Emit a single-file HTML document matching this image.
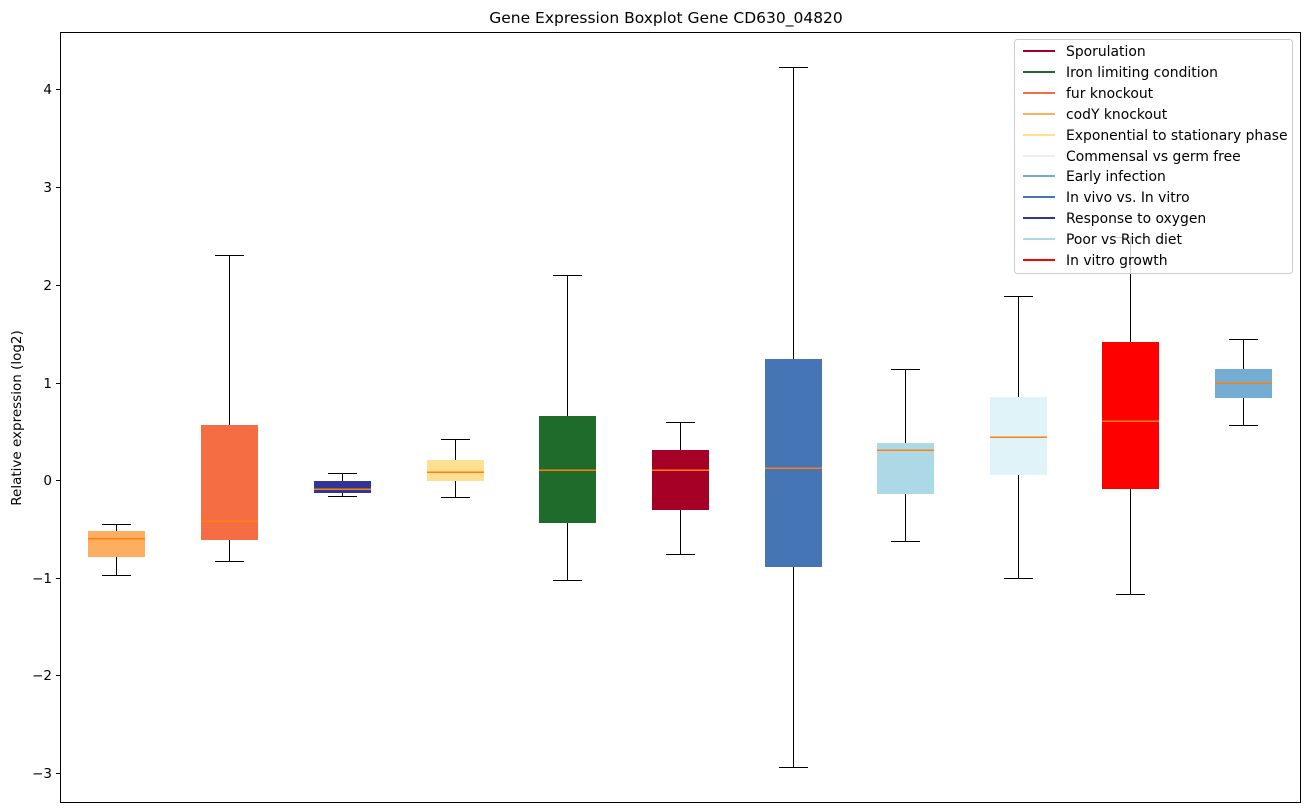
<!DOCTYPE html>
<html><head><meta charset="utf-8"><style>body{margin:0;background:#fff}svg{display:block}</style></head><body>
<svg width="1309" height="812" xmlns="http://www.w3.org/2000/svg" font-family="DejaVu Sans, Liberation Sans, sans-serif">
<rect width="1309" height="812" fill="#fff"/>
<text x="666" y="23" text-anchor="middle" font-size="15.5">Gene Expression Boxplot Gene CD630_04820</text>
<g stroke-width="1" shape-rendering="crispEdges">
<g><line x1="116.5" y1="524" x2="116.5" y2="575" stroke="#000"/><line x1="102" y1="524.5" x2="131" y2="524.5" stroke="#000"/><line x1="102" y1="575.5" x2="131" y2="575.5" stroke="#000"/><rect x="88" y="531" width="57" height="26" fill="#fdae61"/><line x1="88" y1="538.5" x2="145" y2="538.5" stroke="#ff7f0e" stroke-width="1.5"/></g>
<g><line x1="229.5" y1="255" x2="229.5" y2="561" stroke="#000"/><line x1="215" y1="255.5" x2="244" y2="255.5" stroke="#000"/><line x1="215" y1="561.5" x2="244" y2="561.5" stroke="#000"/><rect x="201" y="425" width="57" height="115" fill="#f46d43"/><line x1="201" y1="521" x2="258" y2="521" stroke="#ff7f0e" stroke-width="1.5"/></g>
<g><line x1="342.5" y1="473" x2="342.5" y2="496" stroke="#000"/><line x1="328" y1="473.5" x2="357" y2="473.5" stroke="#000"/><line x1="328" y1="496.5" x2="357" y2="496.5" stroke="#000"/><rect x="314" y="481" width="57" height="12" fill="#313695"/><line x1="314" y1="489" x2="371" y2="489" stroke="#ff7f0e" stroke-width="1.5"/></g>
<g><line x1="455.5" y1="439" x2="455.5" y2="497" stroke="#000"/><line x1="441" y1="439.5" x2="470" y2="439.5" stroke="#000"/><line x1="441" y1="497.5" x2="470" y2="497.5" stroke="#000"/><rect x="427" y="460" width="57" height="21" fill="#fee090"/><line x1="427" y1="472" x2="484" y2="472" stroke="#ff7f0e" stroke-width="1.5"/></g>
<g><line x1="567.5" y1="275" x2="567.5" y2="580" stroke="#000"/><line x1="553" y1="275.5" x2="582" y2="275.5" stroke="#000"/><line x1="553" y1="580.5" x2="582" y2="580.5" stroke="#000"/><rect x="539" y="416" width="57" height="107" fill="#1f6b2c"/><line x1="539" y1="470" x2="596" y2="470" stroke="#ff7f0e" stroke-width="1.5"/></g>
<g><line x1="680.5" y1="422" x2="680.5" y2="554" stroke="#000"/><line x1="666" y1="422.5" x2="695" y2="422.5" stroke="#000"/><line x1="666" y1="554.5" x2="695" y2="554.5" stroke="#000"/><rect x="652" y="450" width="57" height="60" fill="#a50026"/><line x1="652" y1="470" x2="709" y2="470" stroke="#ff7f0e" stroke-width="1.5"/></g>
<g><line x1="793.5" y1="67" x2="793.5" y2="767" stroke="#000"/><line x1="779" y1="67.5" x2="808" y2="67.5" stroke="#000"/><line x1="779" y1="767.5" x2="808" y2="767.5" stroke="#000"/><rect x="765" y="359" width="57" height="208" fill="#4575b4"/><line x1="765" y1="468" x2="822" y2="468" stroke="#ff7f0e" stroke-width="1.5"/></g>
<g><line x1="905.5" y1="369" x2="905.5" y2="541" stroke="#000"/><line x1="891" y1="369.5" x2="920" y2="369.5" stroke="#000"/><line x1="891" y1="541.5" x2="920" y2="541.5" stroke="#000"/><rect x="877" y="443" width="57" height="51" fill="#add8e6"/><line x1="877" y1="450" x2="934" y2="450" stroke="#ff7f0e" stroke-width="1.5"/></g>
<g><line x1="1018.5" y1="296" x2="1018.5" y2="578" stroke="#000"/><line x1="1004" y1="296.5" x2="1033" y2="296.5" stroke="#000"/><line x1="1004" y1="578.5" x2="1033" y2="578.5" stroke="#000"/><rect x="990" y="397" width="57" height="78" fill="#e0f3f8"/><line x1="990" y1="437" x2="1047" y2="437" stroke="#ff7f0e" stroke-width="1.5"/></g>
<g><line x1="1130.5" y1="237" x2="1130.5" y2="594" stroke="#000"/><line x1="1116" y1="237.5" x2="1145" y2="237.5" stroke="#000"/><line x1="1116" y1="594.5" x2="1145" y2="594.5" stroke="#000"/><rect x="1102" y="342" width="57" height="147" fill="#ff0000"/><line x1="1102" y1="421" x2="1159" y2="421" stroke="#ff7f0e" stroke-width="1.5"/></g>
<g><line x1="1243.5" y1="339" x2="1243.5" y2="425" stroke="#000"/><line x1="1229" y1="339.5" x2="1258" y2="339.5" stroke="#000"/><line x1="1229" y1="425.5" x2="1258" y2="425.5" stroke="#000"/><rect x="1215" y="369" width="57" height="29" fill="#74add1"/><line x1="1215" y1="383" x2="1272" y2="383" stroke="#ff7f0e" stroke-width="1.5"/></g>
</g>
<rect x="60.5" y="32.5" width="1240" height="770" fill="none" stroke="#000"/>
<g stroke="#000" shape-rendering="crispEdges">
<line x1="56" y1="89.5" x2="60" y2="89.5"/><line x1="56" y1="187.5" x2="60" y2="187.5"/><line x1="56" y1="285.5" x2="60" y2="285.5"/><line x1="56" y1="383.5" x2="60" y2="383.5"/><line x1="56" y1="480.5" x2="60" y2="480.5"/><line x1="56" y1="578.5" x2="60" y2="578.5"/><line x1="56" y1="675.5" x2="60" y2="675.5"/><line x1="56" y1="773.5" x2="60" y2="773.5"/>
</g>
<g font-size="13.5" text-anchor="end" fill="#000">
<text x="52" y="94">4</text><text x="52" y="192">3</text><text x="52" y="290">2</text><text x="52" y="388">1</text><text x="52" y="485">0</text><text x="52" y="583">−1</text><text x="52" y="680">−2</text><text x="52" y="778">−3</text>
</g>
<text transform="translate(21,418) rotate(-90)" text-anchor="middle" font-size="13.5">Relative expression (log2)</text>
<rect x="1014.5" y="39.5" width="278" height="234" rx="3" fill="#fff" fill-opacity="0.8" stroke="#ccc"/>
<g stroke-width="2" font-size="13.9">
<line x1="1023" y1="51" x2="1055" y2="51" stroke="#a50026"/><text x="1066" y="56">Sporulation</text>
<line x1="1023" y1="72" x2="1055" y2="72" stroke="#1f6b2c"/><text x="1066" y="77">Iron limiting condition</text>
<line x1="1023" y1="93" x2="1055" y2="93" stroke="#f46d43"/><text x="1066" y="98">fur knockout</text>
<line x1="1023" y1="114" x2="1055" y2="114" stroke="#fdae61"/><text x="1066" y="119">codY knockout</text>
<line x1="1023" y1="135" x2="1055" y2="135" stroke="#fee090"/><text x="1066" y="140">Exponential to stationary phase</text>
<line x1="1023" y1="156" x2="1055" y2="156" stroke="#e0f3f8"/><text x="1066" y="161">Commensal vs germ free</text>
<line x1="1023" y1="176" x2="1055" y2="176" stroke="#74add1"/><text x="1066" y="181">Early infection</text>
<line x1="1023" y1="197" x2="1055" y2="197" stroke="#4575b4"/><text x="1066" y="202">In vivo vs. In vitro</text>
<line x1="1023" y1="218" x2="1055" y2="218" stroke="#313695"/><text x="1066" y="223">Response to oxygen</text>
<line x1="1023" y1="239" x2="1055" y2="239" stroke="#add8e6"/><text x="1066" y="244">Poor vs Rich diet</text>
<line x1="1023" y1="260" x2="1055" y2="260" stroke="#ff0000"/><text x="1066" y="265">In vitro growth</text>
</g>
</svg>
</body></html>
